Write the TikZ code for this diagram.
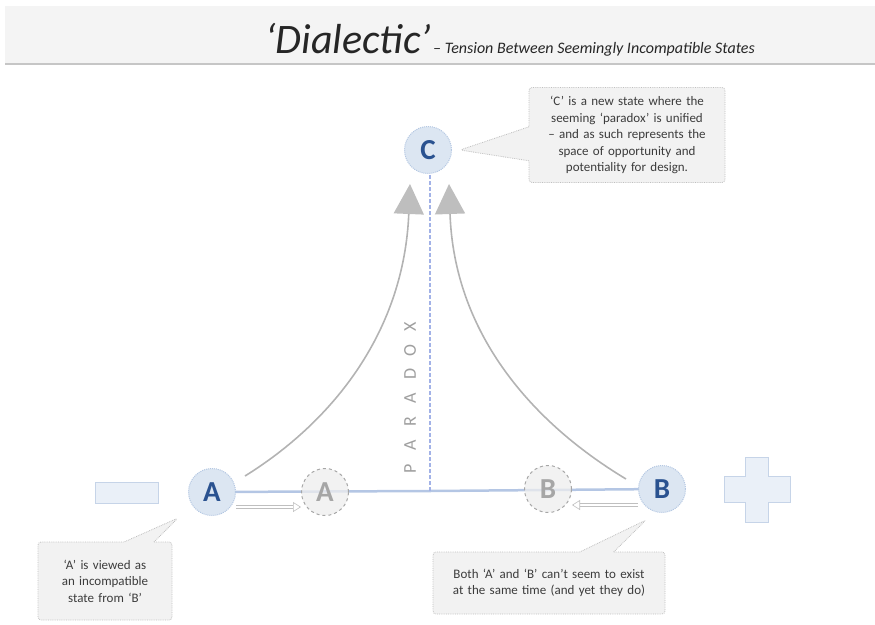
\documentclass[tikz,border=0pt]{standalone}
\usepackage{fontspec}
\setmainfont{Carlito}
\usetikzlibrary{arrows.meta,shapes.callouts}

\definecolor{statefill}{HTML}{DCE6F2}
\definecolor{stateline}{HTML}{B4C7E2}
\definecolor{statetext}{HTML}{2A5290}
\definecolor{ghostfill}{HTML}{EEEEEE}
\definecolor{ghostline}{HTML}{A6A6A6}
\definecolor{axisblue}{HTML}{B4C6E4}
\definecolor{signfill}{HTML}{EAF0F8}
\definecolor{signline}{HTML}{C6D4E8}
\definecolor{notefill}{HTML}{F2F2F2}
\definecolor{noteline}{HTML}{BFBFBF}
\definecolor{notetext}{HTML}{3C3C3C}
\definecolor{curvegray}{HTML}{B3B3B3}

\tikzset{
  state/.style={circle, minimum size=47pt, inner sep=0pt, fill=statefill,
    draw=stateline, densely dotted, line width=1pt, text=statetext,
    font=\fontsize{29}{29}\selectfont\bfseries},
  ghost/.style={state, fill=ghostfill, fill opacity=0.75, text opacity=1,
    draw=ghostline, dashed, text=ghostline},
  note/.style={rectangle callout, fill=notefill, draw=noteline, densely dotted,
    line width=0.8pt, align=center, text=notetext, inner sep=4pt,
    rounded corners=3pt, font=\fontsize{13}{16.5}\selectfont},
  rise/.style={draw=curvegray, line width=1.6pt,
    -{Triangle[length=30pt,width=30pt,color=curvegray!85,fill=curvegray!85]}},
  hollow/.style={draw=gray!50, line width=0.6pt, double=white, double distance=2.5pt,
    -{Triangle[open,length=8pt,width=10pt]}},
  sign/.style={fill=signfill, draw=signline, line width=0.8pt}
}

\begin{document}
\begin{tikzpicture}[x=1pt,y=-1pt]
  \useasboundingbox (0,0) rectangle (875,624);

  % heading band
  \fill[gray!9] (5,6) rectangle (875,64);
  \draw[gray!45, line width=1.2pt] (5,64) -- (875,64);
  \node[anchor=base, text=black!85] (title) at (510,53)
    {\fontsize{42}{42}\selectfont\itshape ‘Dialectic’\kern2pt
     {\fontsize{16}{16}\selectfont – Tension Between Seemingly Incompatible States}};

  % minus and plus signs
  \draw[sign] (95,482) rectangle (158,503);
  \draw[sign] (745,457) -- (768,457) -- (768,476) -- (790,476) -- (790,502)
    -- (768,502) -- (768,522) -- (745,522) -- (745,502) -- (724,502)
    -- (724,476) -- (745,476) -- cycle;

  \coordinate (mid) at (430,491);
  \coordinate (la) at (245,476);
  \coordinate (rb) at (626,479);

  % axis between the two states
  \draw[axisblue, line width=2.5pt] (212,492) -- (mid) -- (662,489);

  \node[ghost] (ga) at (325,492) {A};
  \node[ghost] (gb) at (548,489) {B};
  \node[state] (a) at (212,492) {A};
  \node[state] (b) at (662,489) {B};
  \node[state] (c) at (428,150) {C};

  % paradox line up to C
  \draw[axisblue!90!blue, line width=2pt, dash pattern=on 4pt off 2pt] (mid) -- (c.south -| mid);
  \foreach \l [count=\i] in {P,A,R,A,D,O,X}
    \node[rotate=90, text=gray!75, font=\fontsize{18}{18}\selectfont] (p\i)
      at (410,469-23.7*\i+23.7) {\l};

  % rising curves
  \draw[rise] (la) .. controls (335,420) and (404,330) .. ([xshift=-18pt,yshift=-10pt]c.south);
  \draw[rise] (rb) .. controls (528,420) and (454,330) .. ([xshift=21pt,yshift=-10pt]c.south);

  % moving towards each other
  \draw[hollow] ([yshift=-15pt]a.east) -- ([yshift=-15pt]ga.west);
  \draw[hollow] ([yshift=-16pt]b.west) -- ([yshift=-16pt]gb.east);

  % notes
  \node[note, minimum width=195pt, minimum height=95pt, text width=188pt,
    callout absolute pointer={([xshift=8pt]c.east)}, callout pointer width=34pt] (nc)
    at (627,135) {‘C’ is a new state where the\\ seeming ‘paradox’ is unified\\
      – and as such represents the\\ space of opportunity and\\ potentiality for design.};
  \node[note, minimum width=134pt, minimum height=78pt, text width=125pt,
    callout absolute pointer={(178,518)}, callout pointer width=30pt] (na)
    at (105,581) {‘A’ is viewed as\\ an incompatible\\ state from ‘B’};
  \node[note, minimum width=232pt, minimum height=62pt, text width=224pt,
    callout absolute pointer={(646,520)}, callout pointer width=34pt] (nb)
    at (549,583) {Both ‘A’ and ‘B’ can’t seem to exist\\ at the same time (and yet they do)};
\end{tikzpicture}
\end{document}
